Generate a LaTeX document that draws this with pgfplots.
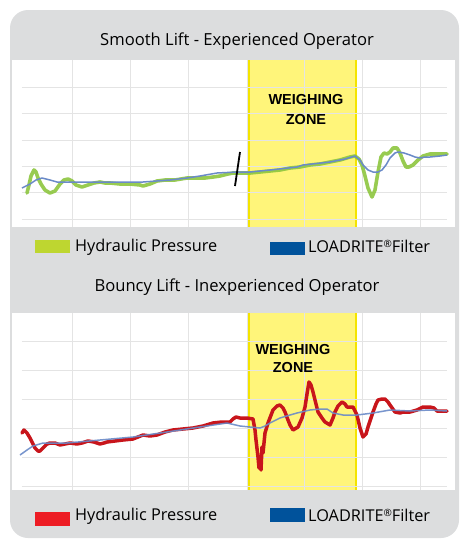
\documentclass[border=0pt]{standalone}
\usepackage{pgfplots}
\pgfplotsset{compat=1.18}
\usepackage{fontspec}
\setmainfont{Open Sans}
\newfontfamily\boldsans{Liberation Sans}[BoldFont={Liberation Sans Bold}]
\definecolor{panelgray}{HTML}{DCDDDE}
\definecolor{gline}{HTML}{8DC63F}
\definecolor{gleg}{HTML}{BED630}
\definecolor{bline}{HTML}{6A8AC8}
\definecolor{bleg}{HTML}{00529B}
\definecolor{rline}{HTML}{C8151B}
\definecolor{rleg}{HTML}{ED1C24}
\definecolor{yfill}{HTML}{FFF57A}
\definecolor{yedge}{HTML}{F4E400}
\definecolor{gridc}{HTML}{E4E4E4}
\pgfplotsset{
  panel/.style={scale only axis, anchor=north west, width=443pt,
    xmin=12, xmax=455, y dir=reverse,
    axis line style={draw=none}, xtick=\empty, ytick=\empty, clip=true},
}
\begin{document}
\begin{tikzpicture}
\useasboundingbox (0pt,0pt) rectangle (462pt,-541pt);
\fill[panelgray, rounded corners=18pt] (10pt,-10pt) rectangle (459pt,-538pt);
\fill[white] (12pt,-60pt) rectangle (455pt,-227pt);
\fill[white] (12pt,-313pt) rectangle (455pt,-490pt);
\node[font=\fontsize{16.6}{19}\selectfont] at (237pt,-41pt) {Smooth Lift - Experienced Operator};
\node[font=\fontsize{16.6}{19}\selectfont] at (237pt,-287pt) {Bouncy Lift - Inexperienced Operator};
% top panel
\begin{axis}[panel, at={(12pt,-60pt)}, height=167pt, ymin=60, ymax=227]
\fill[yfill] (axis cs:249,60) rectangle (axis cs:356,227);
\draw[yedge, line width=2pt] (axis cs:249,60) -- (axis cs:249,227);
\draw[yedge, line width=2pt] (axis cs:356,60) -- (axis cs:356,227);
\pgfplotsinvokeforeach{72,130,188,247,304,362,420}{\draw[gridc, line width=1pt] (axis cs:#1,60) -- (axis cs:#1,227);}
\pgfplotsinvokeforeach{87,113,140,166,192,219}{\draw[gridc, line width=1pt] (axis cs:22,#1) -- (axis cs:447,#1);}
\addplot[gline, line width=3.6pt, line join=round, line cap=round, opacity=0.9] coordinates {
(27,193)(29,185)(31,176)(34,170)(36,172)(38,178)(41,184)(45,190)(50,193)(55,191)(60,184)(64,180)(68,179)(72,181)(76,185)(82,187)(88,185)(94,183)(100,182)(105,183)(110,183)(120,184)(130,184)(140,185)(143,186)(150,184)(157,181)(165,180)(175,180)(187,178)(195,178)(205,178)(213,177)(220,176)(228,174)(233,173)(240,173)(250,173)(260,172)(270,171)(280,170)(290,168)(300,167)(310,165)(320,164)(330,162)(340,160)(350,157)(355,156)(359,159)(362,165)(365,176)(368,188)(372,197)(375,190)(378,172)(381,157)(384,153)(387,154)(390,152)(393,148)(397,148)(400,153)(403,161)(406,167)(409,167)(413,165)(418,160)(423,156)(430,154)(440,154)(447,154)};
\addplot[bline, line width=1.5pt, line join=round] coordinates {
(22,188)(30,184)(36,180)(42,178)(50,180)(57,182)(70,182)(100,182)(143,182)(170,180)(187,178)(200,176)(217,173)(237,172)(250,172)(270,170)(297,167)(303,165)(330,162)(345,159)(355,156)(360,160)(363,165)(368,170)(373,172)(378,172)(382,170)(386,165)(390,158)(395,153)(398,152)(404,153)(410,155)(415,157)(420,158)(425,157)(430,157)(440,156)(447,155)};
\addplot[black, line width=1.8pt] coordinates {(240,152)(235,186)};
\node[font=\boldsans\bfseries\fontsize{14.5}{16}\selectfont, align=center] at (axis cs:306,110) {WEIGHING\\[4pt]ZONE};
\end{axis}
% bottom panel
\begin{axis}[panel, at={(12pt,-313pt)}, height=177pt, ymin=313, ymax=490]
\fill[yfill] (axis cs:249,313) rectangle (axis cs:356,490);
\draw[yedge, line width=2pt] (axis cs:249,313) -- (axis cs:249,490);
\draw[yedge, line width=2pt] (axis cs:356,313) -- (axis cs:356,490);
\pgfplotsinvokeforeach{72,130,188,247,304,362,420}{\draw[gridc, line width=1pt] (axis cs:#1,313) -- (axis cs:#1,490);}
\pgfplotsinvokeforeach{341,370,399,428,457,486}{\draw[gridc, line width=1pt] (axis cs:22,#1) -- (axis cs:447,#1);}
\addplot[rline, line width=3.5pt, line join=round, line cap=round] coordinates {
(22,433)(24,430)(27,433)(30,438)(32,442)(35,448)(38,451)(40,451)(43,448)(47,444)(50,443)(55,443)(60,445)(65,444)(70,443)(77,444)(82,443)(88,441)(94,442)(100,444)(104,443)(107,442)(115,441)(123,440)(133,439)(138,437)(143,435)(150,436)(157,435)(165,432)(173,430)(183,429)(193,428)(203,426)(213,423)(222,422)(230,422)(233,419)(236,417)(240,418)(247,418)(253,419)(255,430)(256,440)(258,457)(259,468)(260,462)(261,470)(262,447)(263,453)(265,433)(268,423)(273,410)(277,406)(280,405)(283,408)(285,412)(288,420)(290,425)(293,430)(298,427)(302,418)(305,407)(307,394)(309,382)(311,385)(313,392)(316,404)(318,412)(322,418)(325,422)(330,425)(333,418)(335,412)(338,406)(342,402)(345,404)(347,407)(353,407)(357,415)(360,428)(363,437)(366,434)(368,427)(371,418)(373,412)(376,404)(378,400)(382,399)(385,399)(388,402)(390,405)(395,412)(400,413)(403,412)(410,412)(417,410)(423,407)(430,407)(434,408)(437,411)(447,411)};
\addplot[bline, line width=1.5pt, line join=round, opacity=0.9] coordinates {
(20,455)(27,450)(33,446)(43,443)(67,443)(100,440)(133,437)(167,432)(200,427)(227,423)(240,426)(250,427)(260,428)(265,426)(270,423)(280,418)(290,415)(297,413)(310,410)(320,409)(327,409)(333,413)(343,415)(357,415)(365,414)(373,413)(390,410)(410,411)(430,410)(447,411)};
\node[font=\boldsans\bfseries\fontsize{14.5}{16}\selectfont, align=center] at (axis cs:293,358.5) {WEIGHING\\[2.5pt]ZONE};
\end{axis}
% legends
\fill[gleg] (35pt,-240pt) rectangle (70pt,-253pt);
\node[anchor=west, inner sep=0pt, font=\fontsize{16.3}{19}\selectfont] at (75pt,-247pt) {Hydraulic Pressure};
\fill[bleg] (270pt,-242pt) rectangle (305pt,-255pt);
\node[anchor=west, inner sep=0pt, font=\fontsize{16.3}{19}\selectfont] at (308pt,-246pt) {LOADRITE\raisebox{4.5pt}{\fontsize{10}{10}\selectfont ®}Filter};
\fill[rleg] (35pt,-512pt) rectangle (70pt,-526pt);
\node[anchor=west, inner sep=0pt, font=\fontsize{16.3}{19}\selectfont] at (75pt,-516pt) {Hydraulic Pressure};
\fill[bleg] (270pt,-508pt) rectangle (305pt,-522pt);
\node[anchor=west, inner sep=0pt, font=\fontsize{16.3}{19}\selectfont] at (308pt,-515pt) {LOADRITE\raisebox{4.5pt}{\fontsize{10}{10}\selectfont ®}Filter};
\end{tikzpicture}
\end{document}
